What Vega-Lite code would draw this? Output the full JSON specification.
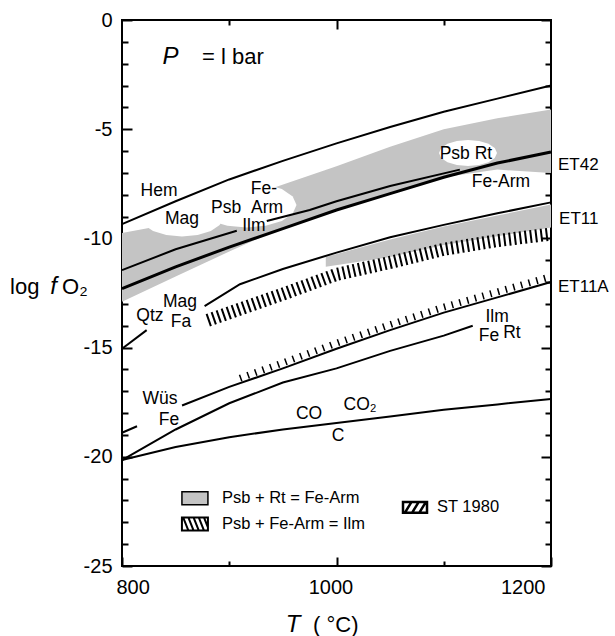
{
  "$schema": "https://vega.github.io/schema/vega-lite/v6.json",
  "width": 429,
  "height": 546,
  "autosize": {"type": "none"},
  "padding": {"left": 122, "top": 20, "right": 64, "bottom": 70},
  "background": "white",
  "config": {
    "view": {"stroke": "black", "strokeWidth": 2},
    "axis": {"domain": false, "grid": false, "tickColor": "black", "tickWidth": 2, "labelFont": "Liberation Sans", "labelFontSize": 20, "labelColor": "black"},
    "text": {"font": "Liberation Sans", "fontSize": 17, "color": "black"}
  },
  "datasets": {
    "band1": [
      {"T": 800, "top": -9.75, "bot": -12.9},
      {"T": 850, "top": -9.3, "bot": -11.75},
      {"T": 900, "top": -8.5, "bot": -10.6},
      {"T": 940, "top": -7.7, "bot": -9.72},
      {"T": 1000, "top": -6.7, "bot": -8.7},
      {"T": 1050, "top": -5.8, "bot": -7.95},
      {"T": 1100, "top": -5.0, "bot": -7.2},
      {"T": 1150, "top": -4.5, "bot": -6.85},
      {"T": 1200, "top": -4.1, "bot": -7.0}
    ],
    "band2": [
      {"T": 990, "top": -10.85, "bot": -11.3},
      {"T": 1050, "top": -10.05, "bot": -10.85},
      {"T": 1100, "top": -9.45, "bot": -10.3},
      {"T": 1150, "top": -8.95, "bot": -9.9},
      {"T": 1200, "top": -8.45, "bot": -9.5}
    ],
    "holes": [
      {"id": "h1", "T": 916.1, "v": -8.47},
      {"id": "h2", "T": 855.9, "v": -9.07},
      {"id": "h3", "T": 1122.6, "v": -6.09}
    ],
    "hatch": [
      {"T": 880, "v": -13.75},
      {"T": 950, "v": -12.55},
      {"T": 1000, "v": -11.65},
      {"T": 1050, "v": -11.1},
      {"T": 1100, "v": -10.5},
      {"T": 1150, "v": -10.1},
      {"T": 1200, "v": -9.8}
    ],
    "st": [
      {"T": 910, "v": -16.4},
      {"T": 950, "v": -15.7},
      {"T": 1000, "v": -14.8},
      {"T": 1050, "v": -13.95},
      {"T": 1100, "v": -13.15},
      {"T": 1150, "v": -12.45},
      {"T": 1200, "v": -11.75}
    ],
    "lines": [
      {"s": "HM", "T": 800, "v": -9.35}, {"s": "HM", "T": 850, "v": -8.3}, {"s": "HM", "T": 900, "v": -7.3}, {"s": "HM", "T": 950, "v": -6.45}, {"s": "HM", "T": 1000, "v": -5.65}, {"s": "HM", "T": 1050, "v": -4.9}, {"s": "HM", "T": 1100, "v": -4.2}, {"s": "HM", "T": 1150, "v": -3.6}, {"s": "HM", "T": 1200, "v": -3.0},
      {"s": "ILMa", "T": 800, "v": -11.45}, {"s": "ILMa", "T": 850, "v": -10.5}, {"s": "ILMa", "T": 907, "v": -9.65},
      {"s": "ILMb", "T": 935, "v": -9.2}, {"s": "ILMb", "T": 975, "v": -8.7}, {"s": "ILMb", "T": 1000, "v": -8.3}, {"s": "ILMb", "T": 1050, "v": -7.6}, {"s": "ILMb", "T": 1115, "v": -6.85},
      {"s": "QFMa", "T": 800, "v": -15.05}, {"s": "QFMa", "T": 823, "v": -14.2},
      {"s": "QFMb", "T": 877, "v": -13.1}, {"s": "QFMb", "T": 910, "v": -12.1}, {"s": "QFMb", "T": 950, "v": -11.4}, {"s": "QFMb", "T": 1000, "v": -10.65}, {"s": "QFMb", "T": 1050, "v": -9.95}, {"s": "QFMb", "T": 1100, "v": -9.38}, {"s": "QFMb", "T": 1150, "v": -8.85}, {"s": "QFMb", "T": 1200, "v": -8.35},
      {"s": "IWa", "T": 800, "v": -18.9}, {"s": "IWa", "T": 814, "v": -18.6},
      {"s": "IWb", "T": 856, "v": -17.65}, {"s": "IWb", "T": 900, "v": -16.8}, {"s": "IWb", "T": 950, "v": -15.95}, {"s": "IWb", "T": 1000, "v": -15.05}, {"s": "IWb", "T": 1050, "v": -14.2}, {"s": "IWb", "T": 1100, "v": -13.4}, {"s": "IWb", "T": 1150, "v": -12.7}, {"s": "IWb", "T": 1200, "v": -12.0},
      {"s": "FeIlm", "T": 800, "v": -20.15}, {"s": "FeIlm", "T": 850, "v": -18.75}, {"s": "FeIlm", "T": 900, "v": -17.55}, {"s": "FeIlm", "T": 950, "v": -16.6}, {"s": "FeIlm", "T": 1000, "v": -15.95}, {"s": "FeIlm", "T": 1050, "v": -15.15}, {"s": "FeIlm", "T": 1100, "v": -14.45}, {"s": "FeIlm", "T": 1127, "v": -14.0},
      {"s": "CCO", "T": 800, "v": -20.15}, {"s": "CCO", "T": 850, "v": -19.55}, {"s": "CCO", "T": 900, "v": -19.1}, {"s": "CCO", "T": 950, "v": -18.75}, {"s": "CCO", "T": 1000, "v": -18.45}, {"s": "CCO", "T": 1050, "v": -18.15}, {"s": "CCO", "T": 1100, "v": -17.85}, {"s": "CCO", "T": 1150, "v": -17.6}, {"s": "CCO", "T": 1200, "v": -17.35}
    ],
    "thick": [
      {"T": 800, "v": -12.3}, {"T": 850, "v": -11.3}, {"T": 900, "v": -10.4}, {"T": 950, "v": -9.55}, {"T": 1000, "v": -8.7}, {"T": 1050, "v": -7.95}, {"T": 1100, "v": -7.2}, {"T": 1150, "v": -6.55}, {"T": 1200, "v": -6.04}
    ],
    "labels": [
      {"t": "Hem", "T": 834.5, "v": -7.83},
      {"t": "Mag", "T": 855.9, "v": -9.11},
      {"t": "Psb", "T": 897, "v": -8.6},
      {"t": "Fe-", "T": 932.4, "v": -7.74},
      {"t": "Arm", "T": 935.2, "v": -8.6},
      {"t": "Ilm", "T": 923, "v": -9.42},
      {"t": "Psb  Rt", "T": 1120.7, "v": -6.14},
      {"t": "Fe-Arm", "T": 1153.4, "v": -7.42},
      {"t": "Qtz", "T": 826, "v": -13.55},
      {"t": "Mag", "T": 854, "v": -12.91},
      {"t": "Fa", "T": 855, "v": -13.83},
      {"t": "Ilm", "T": 1149.7, "v": -13.6},
      {"t": "Fe", "T": 1142.2, "v": -14.47},
      {"t": "Rt", "T": 1163.6, "v": -14.33},
      {"t": "Wüs", "T": 835.4, "v": -17.35},
      {"t": "Fe", "T": 843.8, "v": -18.32},
      {"t": "CO", "T": 974.4, "v": -18.04},
      {"t": "CO₂", "T": 1022, "v": -17.63},
      {"t": "C", "T": 1001.4, "v": -19.05}
    ],
    "etlabels": [
      {"t": "ET42", "T": 1206.5, "v": -6.64},
      {"t": "ET11", "T": 1207.5, "v": -9.11},
      {"t": "ET11A", "T": 1206.5, "v": -12.22}
    ],
    "legtext": [
      {"t": "Psb + Rt = Fe-Arm", "T": 893.2, "v": -21.89},
      {"t": "Psb + Fe-Arm = Ilm", "T": 893.2, "v": -23.08},
      {"t": "ST 1980", "T": 1093.7, "v": -22.3}
    ],
    "legbox": [
      {"id": "stipple", "T": 868, "v": -21.9}
    ],
    "legbox2": [
      {"id": "hatch", "T": 868, "v": -23.08}
    ],
    "legbox3": [
      {"id": "st", "T": 1073.2, "v": -22.32}
    ],
    "italic": [
      {"t": "P", "T": 845.2, "v": -1.69, "k": "p"},
      {"t": "T", "T": 959.4, "v": -27.7, "k": "x"},
      {"t": "f", "T": 736.1, "v": -12.23, "k": "y"}
    ],
    "plain": [
      {"t": "= l bar", "T": 874.6, "v": -1.69, "k": "p"},
      {"t": "( °C)", "T": 978.1, "v": -27.7, "k": "x"},
      {"t": "log", "T": 695.6, "v": -12.23, "k": "y"},
      {"t": "O₂", "T": 744.1, "v": -12.23, "k": "y"}
    ]
  },
  "resolve": {"axis": {"x": "independent", "y": "independent"}},
  "layer": [
    {
      "data": {"name": "band1"},
      "mark": {"type": "area", "color": "#c4c4c4", "orient": "vertical"},
      "encoding": {
        "x": {"field": "T", "type": "quantitative", "scale": {"domain": [800, 1200], "nice": false, "zero": false},
              "axis": {"orient": "bottom", "values": [800, 1000, 1200], "tickSize": -9, "labelPadding": 20, "labelOffset": -6, "labelExpr": "'' + datum.value", "title": null}},
        "y": {"field": "top", "type": "quantitative", "scale": {"domain": [-25, 0], "nice": false, "zero": false},
              "axis": {"orient": "left", "values": [-25, -20, -15, -10, -5, 0], "tickSize": -10, "labelPadding": 20, "labelExpr": "'' + datum.value", "title": null}},
        "y2": {"field": "bot"}
      }
    },
    {
      "data": {"name": "band2"},
      "mark": {"type": "area", "color": "#c4c4c4", "orient": "vertical"},
      "encoding": {
        "x": {"field": "T", "type": "quantitative", "scale": {"domain": [800, 1200], "nice": false, "zero": false},
              "axis": {"orient": "bottom", "values": [900, 1100], "tickSize": -5, "labels": false, "title": null}},
        "y": {"field": "top", "type": "quantitative", "scale": {"domain": [-25, 0], "nice": false, "zero": false},
              "axis": {"orient": "left", "values": [-24, -23, -22, -21, -19, -18, -17, -16, -14, -13, -12, -11, -9, -8, -7, -6, -4, -3, -2, -1], "tickSize": -6, "labels": false, "title": null}},
        "y2": {"field": "bot"}
      }
    },
    {
      "data": {"name": "holes"},
      "mark": {"type": "point", "shape": "M1,0L0.924,0.172L0.707,0.318L0.383,0.416L0,0.45L-0.383,0.416L-0.707,0.318L-0.924,0.172L-1,0L-0.924,-0.172L-0.707,-0.318L-0.383,-0.416L0,-0.45L0.383,-0.416L0.707,-0.318L0.924,-0.172Z", "filled": true, "color": "white", "opacity": 1},
      "encoding": {
        "x": {"field": "T", "type": "quantitative", "axis": null},
        "y": {"field": "v", "type": "quantitative", "axis": null},
        "size": {"field": "id", "type": "nominal", "scale": {"domain": ["h1", "h2", "h3"], "range": [10000, 3364, 7744]}, "legend": null}
      }
    },
    {
      "data": {"name": "hatch"},
      "mark": {"type": "line", "color": "black", "strokeWidth": 13, "strokeDash": [2, 3.3], "strokeCap": "butt"},
      "encoding": {
        "x": {"field": "T", "type": "quantitative", "scale": {"domain": [800, 1200], "nice": false, "zero": false},
              "axis": {"orient": "top", "values": [1000], "tickSize": -9, "labels": false, "title": null}},
        "y": {"field": "v", "type": "quantitative", "scale": {"domain": [-25, 0], "nice": false, "zero": false},
              "axis": {"orient": "right", "values": [-25, -20, -15, -10, -5, 0], "tickSize": -10, "labels": false, "title": null}}
      }
    },
    {
      "data": {"name": "st"},
      "mark": {"type": "line", "color": "black", "strokeWidth": 7, "strokeDash": [1.5, 6.5], "strokeCap": "butt"},
      "encoding": {
        "x": {"field": "T", "type": "quantitative", "scale": {"domain": [800, 1200], "nice": false, "zero": false},
              "axis": {"orient": "top", "values": [900, 1100], "tickSize": -5, "labels": false, "title": null}},
        "y": {"field": "v", "type": "quantitative", "scale": {"domain": [-25, 0], "nice": false, "zero": false},
              "axis": {"orient": "right", "values": [-24, -23, -22, -21, -19, -18, -17, -16, -14, -13, -12, -11, -9, -8, -7, -6, -4, -3, -2, -1], "tickSize": -6, "labels": false, "title": null}}
      }
    },
    {
      "data": {"name": "lines"},
      "mark": {"type": "line", "color": "black", "strokeWidth": 2},
      "encoding": {
        "x": {"field": "T", "type": "quantitative", "axis": null},
        "y": {"field": "v", "type": "quantitative", "axis": null},
        "detail": {"field": "s", "type": "nominal"}
      }
    },
    {
      "data": {"name": "thick"},
      "mark": {"type": "line", "color": "black", "strokeWidth": 3},
      "encoding": {
        "x": {"field": "T", "type": "quantitative", "axis": null},
        "y": {"field": "v", "type": "quantitative", "axis": null}
      }
    },
    {
      "data": {"name": "labels"},
      "mark": {"type": "text", "align": "center", "baseline": "middle", "fontSize": 17.5},
      "encoding": {
        "x": {"field": "T", "type": "quantitative", "axis": null},
        "y": {"field": "v", "type": "quantitative", "axis": null},
        "text": {"field": "t"}
      }
    },
    {
      "data": {"name": "etlabels"},
      "mark": {"type": "text", "align": "left", "baseline": "middle", "fontSize": 17},
      "encoding": {
        "x": {"field": "T", "type": "quantitative", "axis": null},
        "y": {"field": "v", "type": "quantitative", "axis": null},
        "text": {"field": "t"}
      }
    },
    {
      "data": {"name": "legtext"},
      "mark": {"type": "text", "align": "left", "baseline": "middle", "fontSize": 16.5},
      "encoding": {
        "x": {"field": "T", "type": "quantitative", "axis": null},
        "y": {"field": "v", "type": "quantitative", "axis": null},
        "text": {"field": "t"}
      }
    },
    {
      "data": {"name": "legbox"},
      "mark": {"type": "point", "shape": "M-1,-0.5H1V0.5H-1Z", "size": 676, "filled": true, "fill": "#c4c4c4", "stroke": "black", "strokeWidth": 1.5, "opacity": 1},
      "encoding": {
        "x": {"field": "T", "type": "quantitative", "axis": null},
        "y": {"field": "v", "type": "quantitative", "axis": null}
      }
    },
    {
      "data": {"name": "legbox2"},
      "mark": {"type": "point", "shape": "M-1,-0.5H1V0.5H-1Z M-0.9,-0.5L-0.5,0.5 M-0.5,-0.5L-0.1,0.5 M-0.1,-0.5L0.3,0.5 M0.3,-0.5L0.7,0.5 M0.7,-0.5L1,0.25", "size": 676, "filled": false, "stroke": "black", "strokeWidth": 2, "opacity": 1},
      "encoding": {
        "x": {"field": "T", "type": "quantitative", "axis": null},
        "y": {"field": "v", "type": "quantitative", "axis": null}
      }
    },
    {
      "data": {"name": "legbox3"},
      "mark": {"type": "point", "shape": "M-1,-0.45H1V0.45H-1Z M-0.85,0.45L-0.3,-0.45 M-0.25,0.45L0.3,-0.45 M0.35,0.45L0.9,-0.45", "size": 576, "filled": false, "stroke": "black", "strokeWidth": 2.5, "opacity": 1},
      "encoding": {
        "x": {"field": "T", "type": "quantitative", "axis": null},
        "y": {"field": "v", "type": "quantitative", "axis": null}
      }
    },
    {
      "data": {"name": "italic"},
      "mark": {"type": "text", "align": "center", "baseline": "middle", "fontStyle": "italic", "fontSize": 24},
      "encoding": {
        "x": {"field": "T", "type": "quantitative", "axis": null},
        "y": {"field": "v", "type": "quantitative", "axis": null},
        "text": {"field": "t"}
      }
    },
    {
      "data": {"name": "plain"},
      "mark": {"type": "text", "align": "left", "baseline": "middle", "fontSize": 22},
      "encoding": {
        "x": {"field": "T", "type": "quantitative", "axis": null},
        "y": {"field": "v", "type": "quantitative", "axis": null},
        "text": {"field": "t"}
      }
    }
  ]
}
